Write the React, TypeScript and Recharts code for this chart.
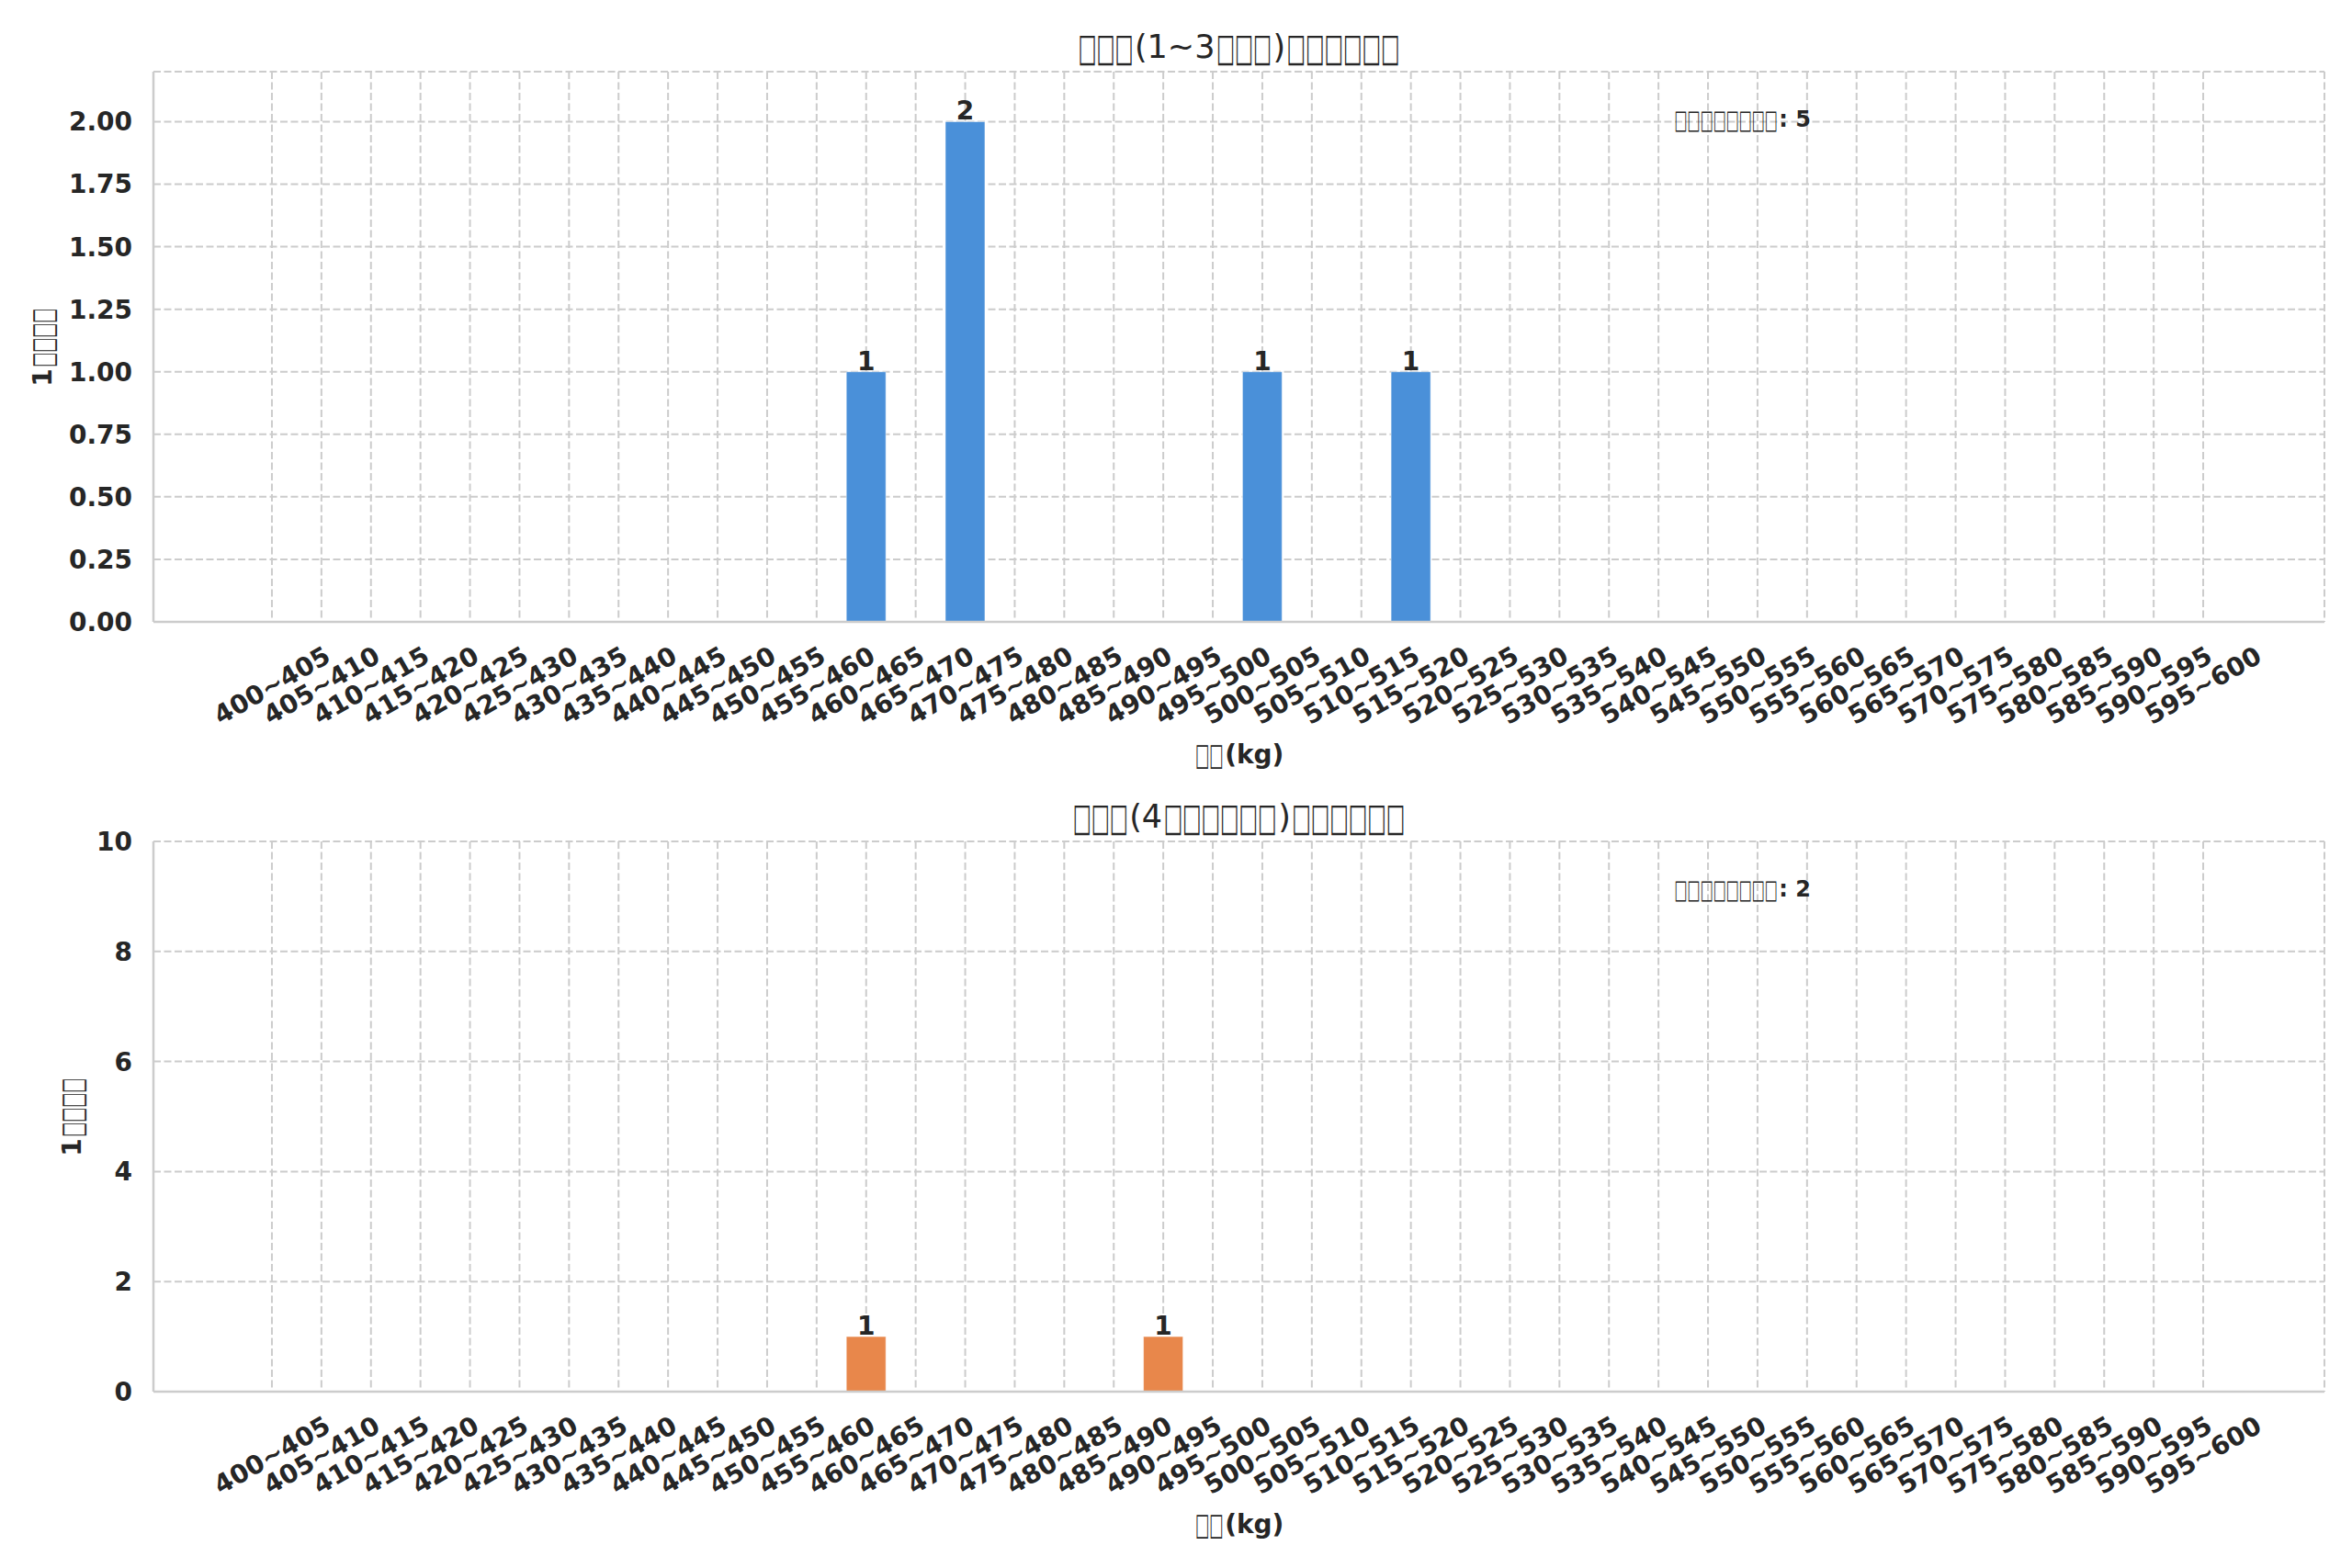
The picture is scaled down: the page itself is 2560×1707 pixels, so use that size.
import { BarChart, Bar, XAxis, YAxis, CartesianGrid, LabelList } from "recharts";

// weight bins (kg)
const BINS = [
  "400~405", "405~410", "410~415", "415~420", "420~425", "425~430", "430~435", "435~440",
  "440~445", "445~450", "450~455", "455~460", "460~465", "465~470", "470~475", "475~480",
  "480~485", "485~490", "490~495", "495~500", "500~505", "505~510", "510~515", "515~520",
  "520~525", "525~530", "530~535", "535~540", "540~545", "545~550", "550~555", "555~560",
  "560~565", "565~570", "570~575", "575~580", "580~585", "585~590", "590~595", "595~600",
];

// head counts per bin
const YOUNG_COUNTS = [
  0, 0, 0, 0, 0, 0, 0, 0, 0, 0,
  0, 0, 1, 0, 2, 0, 0, 0, 0, 0,
  1, 0, 0, 1, 0, 0, 0, 0, 0, 0,
  0, 0, 0, 0, 0, 0, 0, 0, 0, 0,
];
const OLD_COUNTS = [
  0, 0, 0, 0, 0, 0, 0, 0, 0, 0,
  0, 0, 1, 0, 0, 0, 0, 0, 1, 0,
  0, 0, 0, 0, 0, 0, 0, 0, 0, 0,
  0, 0, 0, 0, 0, 0, 0, 0, 0, 0,
];

const YOUNG_TICKS = [0, 0.25, 0.5, 0.75, 1, 1.25, 1.5, 1.75, 2];
const OLD_TICKS = [0, 2, 4, 6, 8, 10];

// text as it appears in the picture: glyphs missing, drawn as boxes (number = box count)
const YOUNG_TITLE = [3, "(1~3", 3, ")", 6];
const OLD_TITLE = [3, "(4", 6, ")", 6];
const Y_LABEL = ["1", 4];
const X_LABEL = [2, "(kg)"];
const NOTE_LABEL = [8];

const FONT = "'DejaVu Sans', sans-serif";
const INK = "#262626";
const EDGE = "#cccccc";

const W = 2560;
const PLOT_LEFT = 167;
const PLOT_RIGHT = 2530;
const PLOT_TOP = 78;
const PLOT_H = 599;

type Part = string | number;

let measureCtx: CanvasRenderingContext2D | null = null;
function textWidth(s: string, size: number, bold: boolean) {
  if (!measureCtx) measureCtx = document.createElement("canvas").getContext("2d");
  if (!measureCtx) return s.length * size * 0.65;
  measureCtx.font = `${bold ? "bold " : ""}${size}px "DejaVu Sans"`;
  return measureCtx.measureText(s).width;
}

function TofuText(props: {
  x: number;
  y: number;
  parts: Part[];
  size: number;
  bold?: boolean;
  anchor?: "start" | "middle";
  transform?: string;
}) {
  const { x, y, parts, size, bold = false, anchor = "start", transform } = props;
  const gap = 1.5;
  const widths = parts.map((p) => (typeof p === "number" ? p * size * 0.6 : textWidth(p, size, bold)));
  const total = widths.reduce((a, b) => a + b, 0);
  let cur = anchor === "middle" ? x - total / 2 : x;
  return (
    <g transform={transform}>
      {parts.map((p, i) => {
        const px = cur;
        cur += widths[i];
        if (typeof p === "number") {
          const boxes = "□".repeat(p);
          const boxSize = size * 1.2;
          const natural = textWidth(boxes, boxSize, false);
          const sx = (widths[i] - 2 * gap) / natural;
          return (
            <text
              key={i}
              transform={`translate(${px + gap},${y}) scale(${sx},1)`}
              x={0}
              y={0}
              dy="0.35em"
              fontFamily={FONT}
              fontSize={boxSize}
              fill={INK}
            >
              {boxes}
            </text>
          );
        }
        return (
          <text
            key={i}
            x={px}
            y={y}
            dy="0.35em"
            fontFamily={FONT}
            fontWeight={bold ? "bold" : "normal"}
            fontSize={size}
            fill={INK}
          >
            {p}
          </text>
        );
      })}
    </g>
  );
}

function XTick(props: any) {
  const { x, y, payload } = props;
  return (
    <g transform={`translate(${x},${y + 69})`}>
      <text
        transform="rotate(-30)"
        textAnchor="middle"
        dy="0.35em"
        fontFamily={FONT}
        fontWeight="bold"
        fontSize={28}
        fill={INK}
      >
        {payload.value}
      </text>
    </g>
  );
}

function YLabel(props: any) {
  const vb = props.viewBox || { x: 10, y: PLOT_TOP, width: 157, height: PLOT_H };
  const cx = vb.x + props.dx;
  const cy = vb.y + vb.height / 2;
  return (
    <TofuText
      x={cx}
      y={cy}
      parts={Y_LABEL}
      size={28}
      bold
      anchor="middle"
      transform={`rotate(-90, ${cx}, ${cy})`}
    />
  );
}

function XLabel(props: any) {
  const vb = props.viewBox || { x: PLOT_LEFT, y: PLOT_TOP + PLOT_H, width: PLOT_RIGHT - PLOT_LEFT, height: 140 };
  return <TofuText x={vb.x + vb.width / 2} y={vb.y + 144} parts={X_LABEL} size={28} bold anchor="middle" />;
}

function ValueLabel(props: any) {
  const { x, y, width, value } = props;
  if (!value) return null;
  return (
    <text
      x={x + width / 2}
      y={y - 2}
      textAnchor="middle"
      fontFamily={FONT}
      fontWeight="bold"
      fontSize={28}
      fill={INK}
    >
      {value}
    </text>
  );
}

interface PanelProps {
  top: number;
  height: number;
  counts: number[];
  color: string;
  title: Part[];
  total: number;
  yMax: number;
  yTicks: number[];
  yFmt: (v: number) => string;
  yLabelDx: number;
}

function Panel({ top, height, counts, color, title, total, yMax, yTicks, yFmt, yLabelDx }: PanelProps) {
  const data = BINS.map((bin, i) => ({ bin, n: counts[i] }));
  const plotW = PLOT_RIGHT - PLOT_LEFT;
  const xAxisH = 140;
  const marginBottom = height - PLOT_TOP - PLOT_H - xAxisH;

  return (
    <div style={{ position: "absolute", left: 0, top, width: W, height }}>
      <BarChart
        width={W}
        height={height}
        data={data}
        margin={{ top: PLOT_TOP, right: W - PLOT_RIGHT, bottom: marginBottom, left: 10 }}
        barCategoryGap="10%"
      >
        <CartesianGrid stroke={EDGE} strokeWidth={2} strokeDasharray="8 3.5" />
        <XAxis
          dataKey="bin"
          interval={0}
          height={xAxisH}
          padding={{ left: 102, right: 105 }}
          tickLine={false}
          tickSize={0}
          tickMargin={0}
          axisLine={{ stroke: EDGE, strokeWidth: 2.5 }}
          tick={<XTick />}
          label={<XLabel />}
        />
        <XAxis
          xAxisId="frame"
          orientation="top"
          dataKey="bin"
          height={0}
          tick={false}
          tickLine={false}
          axisLine={{ stroke: EDGE, strokeWidth: 2.5 }}
        />
        <YAxis
          width={157}
          domain={[0, yMax]}
          ticks={yTicks}
          interval={0}
          allowDataOverflow
          tickFormatter={yFmt}
          tickLine={false}
          tickSize={0}
          tickMargin={23}
          axisLine={{ stroke: EDGE, strokeWidth: 2.5 }}
          tick={{ fontFamily: FONT, fontWeight: "bold", fontSize: 28, fill: INK }}
          label={<YLabel dx={yLabelDx} />}
        />
        <YAxis
          yAxisId="frame"
          orientation="right"
          width={0}
          domain={[0, yMax]}
          tick={false}
          tickLine={false}
          axisLine={{ stroke: EDGE, strokeWidth: 2.5 }}
        />
        <Bar dataKey="n" fill={color} stroke="#ffffff" strokeOpacity={0.5} strokeWidth={1} isAnimationActive={false}>
          <LabelList dataKey="n" content={<ValueLabel />} />
        </Bar>
      </BarChart>
      <svg
        width={W}
        height={height}
        style={{ position: "absolute", left: 0, top: 0, pointerEvents: "none" }}
      >
        <TofuText x={(PLOT_LEFT + PLOT_RIGHT) / 2} y={PLOT_TOP - 27} parts={title} size={35} anchor="middle" />
        <TofuText
          x={PLOT_LEFT + 0.7 * plotW}
          y={PLOT_TOP + 52}
          parts={[...NOTE_LABEL, `: ${total}`]}
          size={24}
          bold
        />
      </svg>
    </div>
  );
}

export default function App() {
  const youngTotal = YOUNG_COUNTS.reduce((a, b) => a + b, 0);
  const oldTotal = OLD_COUNTS.reduce((a, b) => a + b, 0);
  return (
    <div
      style={{
        position: "absolute",
        left: 0,
        top: 0,
        width: W,
        height: 1707,
        background: "#ffffff",
        fontFamily: FONT,
        overflow: "hidden",
      }}
    >
      <Panel
        top={0}
        height={850}
        counts={YOUNG_COUNTS}
        color="#4a90d9"
        title={YOUNG_TITLE}
        total={youngTotal}
        yMax={2.2}
        yTicks={YOUNG_TICKS}
        yFmt={(v) => v.toFixed(2)}
        yLabelDx={36}
      />
      <Panel
        top={838}
        height={869}
        counts={OLD_COUNTS}
        color="#e8874b"
        title={OLD_TITLE}
        total={oldTotal}
        yMax={10}
        yTicks={OLD_TICKS}
        yFmt={(v) => String(v)}
        yLabelDx={68}
      />
    </div>
  );
}
